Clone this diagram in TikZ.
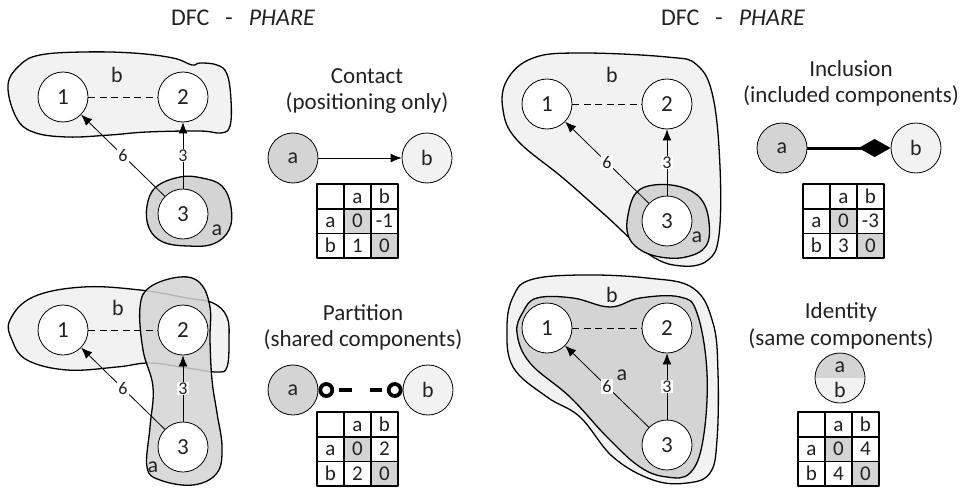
\documentclass[tikz,border=0pt]{standalone}
\usepackage{fontspec}
\setmainfont{Carlito}
\usetikzlibrary{arrows.meta,positioning}

\definecolor{agray}{HTML}{D4D4D4}
\definecolor{bgray}{HTML}{F2F2F2}
\definecolor{ink}{HTML}{222222}

\tikzset{
  comp/.style={circle, draw, fill=white, minimum size=50pt, inner sep=0pt, line width=0.8pt, text=ink, font=\fontsize{23}{23}\selectfont},
  nearlink/.style={draw, line width=0.8pt, dash pattern=on 7pt off 4.5pt},
  dep/.style={draw, line width=0.8pt, -{Latex[length=11pt,width=9pt]}},
  wt/.style={fill=white, inner sep=1pt, text=ink, font=\fontsize{18}{18}\selectfont},
  blob/.style={draw, line width=1.3pt},
  blobtext/.style={text=ink, font=\fontsize{22}{22}\selectfont},
  head/.style={text=ink, font=\fontsize{24}{24}\selectfont, anchor=base},
  title/.style={text=ink, font=\fontsize{23}{23}\selectfont, anchor=base},
  relnode/.style={circle, draw, minimum size=50pt, inner sep=0pt, line width=0.8pt, text=ink, font=\fontsize{22}{22}\selectfont},
  ring/.style={circle, draw, line width=3.8pt, minimum size=12pt, inner sep=0pt},
  cell/.style={draw, line width=1.6pt, minimum width=27pt, minimum height=24.7pt, inner sep=0pt, text height=13.5pt, text depth=0pt, text=ink, font=\fontsize{21}{21}\selectfont}
}

\begin{document}
\begin{tikzpicture}[x=1pt, y=-1pt, line join=round]
\useasboundingbox (0,0) rectangle (971,487);

% headers
\node[head] (headl) at (243,26) {DFC\hspace{16pt}-\hspace{16pt}\textit{PHARE}};
\node[head] (headr) at (733,26) {DFC\hspace{16pt}-\hspace{16pt}\textit{PHARE}};

% contact: b and a apart
\path[blob, fill=bgray] plot[smooth cycle, tension=0.65] coordinates {(8,85) (20,65) (40,55) (83,52) (133,53) (173,58) (192,65) (200,63) (217,65) (227,74) (231,100) (230,126) (221,133) (200,131) (147,132) (110,135) (67,137) (33,132) (16,117)};
\path[blob, fill=agray] plot[smooth cycle, tension=0.65] coordinates {(180,177) (202,178) (222,186) (231,207) (229,230) (213,244) (188,246) (163,242) (149,228) (147,206) (156,187)};
\node[blobtext] (tl-b) at (117,75) {b};
\node[blobtext] (tl-a) at (217,230) {a};

% inclusion: a inside b
\path[blob, fill=bgray] plot[smooth cycle, tension=0.65] coordinates {(533,58) (580,53) (667,57) (697,65) (713,97) (720,167) (719,235) (708,260) (682,266) (650,255) (605,215) (563,178) (517,140) (503,110) (507,80)};
\path[blob, fill=agray] plot[smooth cycle, tension=0.65] coordinates {(628,215) (636,193) (654,185) (681,187) (701,199) (709,222) (706,246) (686,257) (660,257) (639,249) (628,235)};
\node[blobtext] (tr-b) at (612,75) {b};
\node[blobtext] (tr-a) at (697,237) {a};

% partition: a crosses b
\path[blob, fill=bgray] plot[smooth cycle, tension=0.65] coordinates {(10,320) (33,297) (83,287) (140,290) (187,298) (213,303) (227,317) (229,340) (227,367) (217,372) (187,368) (150,363) (117,367) (67,370) (27,360) (12,340)};
\path[blob, fill=agray, fill opacity=0.85] plot[smooth cycle, tension=0.65] coordinates {(180,277) (200,283) (210,307) (210,340) (212,380) (217,413) (222,447) (217,473) (193,485) (160,480) (147,467) (150,427) (153,387) (143,350) (140,307) (150,287)};
\node[blobtext] (bl-b) at (118,308) {b};
\node[blobtext] (bl-a) at (153,467) {a};

% identity: a fills b
\path[blob, fill=bgray] plot[smooth cycle, tension=0.65] coordinates {(530,280) (580,275) (647,278) (693,288) (713,323) (718,373) (717,440) (710,473) (687,483) (653,480) (613,457) (580,417) (547,397) (513,367) (507,327) (513,297)};
\path[blob, fill=agray] plot[smooth cycle, tension=0.65] coordinates {(523,312) (537,298) (573,298) (610,307) (640,298) (680,297) (697,313) (707,373) (703,440) (690,473) (667,477) (640,467) (607,437) (570,397) (530,363) (517,333)};
\node[blobtext] (br-b) at (612,295) {b};
\node[blobtext] (br-a) at (622,375) {a};

% the three components, same in all four
\foreach \qx/\qy/\q in {0/0/tl, 484/7/tr, 0/233/bl, 484/231/br} {
  \begin{scope}[shift={(\qx,\qy)}, name prefix=\q-]
    \node[comp] (n1) at (63,97) {1};
    \node[comp] (n2) at (183,97) {2};
    \node[comp] (n3) at (183,214) {3};
    \draw[nearlink] (n1) -- (n2);
    \draw[dep] (n3) -- node[wt] (w31) {6} (n1);
    \draw[dep] (n3) -- node[wt] (w32) {3} (n2);
  \end{scope}
}

% titles
\node[title] (tcon) at (367,83) {Contact};
\node[title] (tcon2) at (367,109) {(positioning only)};
\node[title] (tinc) at (851,76) {Inclusion};
\node[title] (tinc2) at (851,102) {(included components)};
\node[title] (tpar) at (363,320) {Partition};
\node[title] (tpar2) at (363,346) {(shared components)};
\node[title] (tide) at (841,318) {Identity};
\node[title] (tide2) at (841,345) {(same components)};

% relation symbols
\node[relnode, fill=agray] (ca) at (293,158) {a};
\node[relnode, fill=bgray] (cb) at (427,158) {b};
\draw[line width=0.8pt, -{Latex[length=11pt,width=9pt]}] (ca) -- (cb);

\node[relnode, fill=agray] (ia) at (782,148) {a};
\node[relnode, fill=bgray] (ib) at (916,148) {b};
\draw[line width=3pt, -{Diamond[length=32pt,width=18pt]}] (ia) -- (ib);

\node[relnode, fill=agray] (pa) at (293,390) {a};
\node[relnode, fill=bgray] (pb) at (428,390) {b};
\node[ring, right=0pt of pa] (pra) {};
\node[ring, left=0pt of pb] (prb) {};
\draw[line width=3.8pt, dash pattern=on 0pt off 5pt on 13pt off 18pt on 12pt off 5pt] (pra) -- (prb);

\begin{scope}
  \clip (840,378) circle (25pt);
  \fill[agray] (812,350) rectangle (868,378);
  \fill[bgray] (812,378) rectangle (868,406);
\end{scope}
\node[relnode] (ide) at (840,378) {};
\node[blobtext] (ide-a) at (840,367) {a};
\node[blobtext] (ide-b) at (840,390) {b};

% matrices
\foreach \tx/\ty/\vab/\vba/\tn in {317/184/-1/1/con, 803/184/-3/3/inc, 317/412/2/2/par, 798/412/4/4/ide}
  \foreach \c/\r/\txt/\col in {0/0//white, 1/0/a/white, 2/0/b/white, 0/1/a/white, 1/1/0/agray, 2/1/\vab/white, 0/2/b/white, 1/2/\vba/white, 2/2/0/agray}
    \node[cell, fill=\col] (\tn-\c\r) at (\tx+13.5+27*\c, \ty+12.35+24.7*\r) {\txt};

\end{tikzpicture}
\end{document}
